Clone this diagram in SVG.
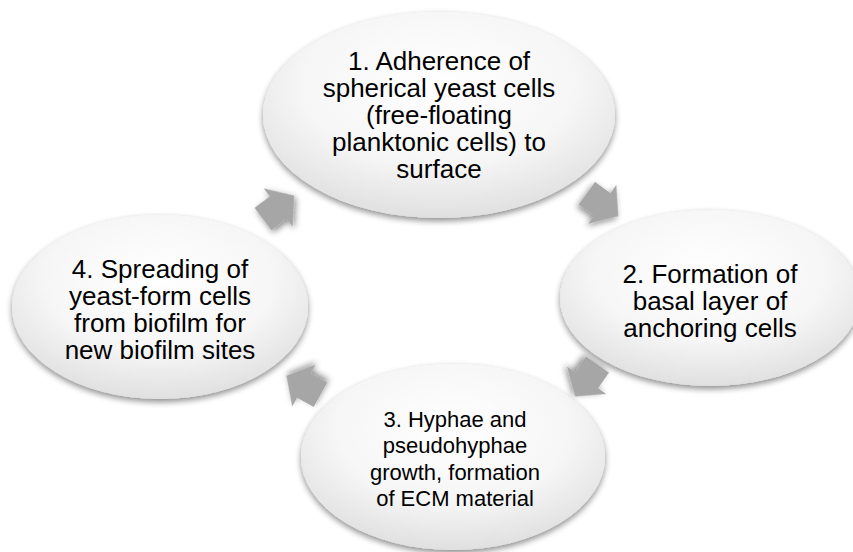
<svg xmlns="http://www.w3.org/2000/svg" width="853" height="552" viewBox="0 0 853 552">
  <defs>
    <radialGradient id="nodeFill" cx="50%" cy="35%" r="65%">
      <stop offset="0" stop-color="#ffffff"/>
      <stop offset="0.6" stop-color="#f6f6f6"/>
      <stop offset="1" stop-color="#e0e0e0"/>
    </radialGradient>
    <filter id="shadow" x="-20%" y="-20%" width="140%" height="150%">
      <feGaussianBlur in="SourceAlpha" stdDeviation="3"/>
      <feOffset dx="0" dy="3" result="b"/>
      <feComponentTransfer><feFuncA type="linear" slope="0.45"/></feComponentTransfer>
      <feMerge><feMergeNode/><feMergeNode in="SourceGraphic"/></feMerge>
    </filter>
    <path id="arrowShape" d="M-20,-14 H-1 V-24 L19,0 L-1,24 V14 H-20 Z"/>
  </defs>
  <style>
    .node ellipse { fill: url(#nodeFill); filter: url(#shadow); }
    .node text { font-family: "Liberation Sans", Arial, sans-serif; font-size: 26px; fill: #000; text-anchor: middle; }
    .node text.small { font-size: 22px; }
    .arrow { fill: #a6a6a6; filter: url(#shadow); }
  </style>
  <rect width="853" height="552" fill="#ffffff"/>

  <g id="connectors">
    <use href="#arrowShape" class="arrow" transform="translate(603,205) rotate(36)"/>
    <use href="#arrowShape" class="arrow" transform="translate(586,381) rotate(125)"/>
    <use href="#arrowShape" class="arrow" transform="translate(303,385) rotate(209)"/>
    <use href="#arrowShape" class="arrow" transform="translate(279,207) rotate(-37)"/>
  </g>

  <g id="node1" class="node">
    <ellipse cx="439" cy="115" rx="176" ry="103"/>
    <text x="439" y="70">1. Adherence of</text>
    <text x="439" y="97">spherical yeast cells</text>
    <text x="439" y="124">(free-floating</text>
    <text x="439" y="151">planktonic cells) to</text>
    <text x="439" y="178">surface</text>
  </g>

  <g id="node2" class="node">
    <ellipse cx="710" cy="298" rx="150" ry="88"/>
    <text x="710" y="283">2. Formation of</text>
    <text x="710" y="310">basal layer of</text>
    <text x="710" y="337">anchoring cells</text>
  </g>

  <g id="node3" class="node">
    <ellipse cx="453" cy="457" rx="152" ry="93"/>
    <text class="small" x="455" y="427">3. Hyphae and</text>
    <text class="small" x="455" y="453">pseudohyphae</text>
    <text class="small" x="455" y="480">growth, formation</text>
    <text class="small" x="455" y="506">of ECM material</text>
  </g>

  <g id="node4" class="node">
    <ellipse cx="160" cy="307" rx="148" ry="92"/>
    <text x="160" y="278">4. Spreading of</text>
    <text x="160" y="305">yeast-form cells</text>
    <text x="160" y="332">from biofilm for</text>
    <text x="160" y="359">new biofilm sites</text>
  </g>
</svg>
